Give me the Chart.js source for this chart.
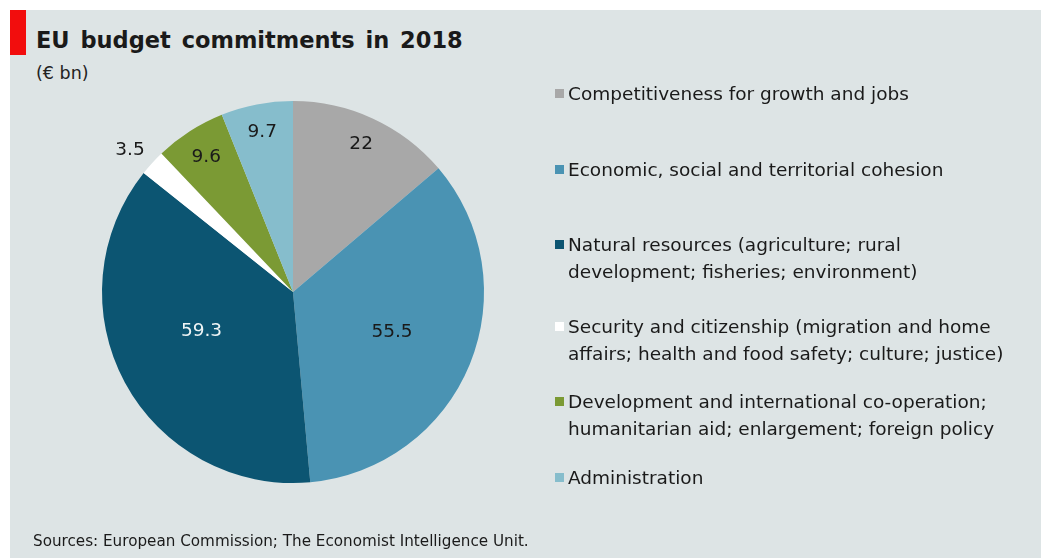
<!DOCTYPE html>
<html>
<head>
<meta charset="utf-8">
<script src="https://cdn.jsdelivr.net/npm/chart.js@4/dist/chart.umd.min.js"></script>
<style>
  html, body { margin: 0; padding: 0; background: #ffffff; }
  #wrap { position: relative; width: 1044px; height: 558px; overflow: hidden; background: #ffffff; }
  #panel { position: absolute; left: 10px; top: 10px; width: 1031px; height: 548px; background: #dde4e5; }
  #flag { position: absolute; left: 10px; top: 10px; width: 16px; height: 45px; background: #f20d0d; }
  #title { position: absolute; left: 36px; top: 27px; font-family: "DejaVu Sans", sans-serif; font-weight: bold;
           font-size: 22.5px; line-height: 26px; color: #1a1a1a; word-spacing: 3px; white-space: nowrap; }
  #subtitle { position: absolute; left: 36px; top: 62px; font-family: "DejaVu Sans", sans-serif;
              font-size: 17.5px; line-height: 22px; color: #222; white-space: nowrap; }
  #source { position: absolute; left: 33px; top: 530px; font-family: "DejaVu Sans", sans-serif;
            font-size: 15.2px; line-height: 22px; color: #1a1a1a; white-space: nowrap; }
  canvas#pie { position: absolute; left: 0; top: 0; }
  .item { position: absolute; left: 555px; font-family: "DejaVu Sans", sans-serif; font-size: 18.5px;
          line-height: 27px; color: #1a1a1a; white-space: nowrap; }
  .item .sw { position: absolute; left: 0; top: 9px; width: 9px; height: 9px; }
  .item .tx { margin-left: 13px; }
</style>
</head>
<body>
<div id="wrap">
  <div id="panel"></div>
  <div id="flag"></div>
  <div id="title">EU budget commitments in 2018</div>
  <div id="subtitle">(€ bn)</div>
  <canvas id="pie" width="1044" height="558"></canvas>
  <div id="legend"></div>
  <div id="source">Sources: European Commission; The Economist Intelligence Unit.</div>
</div>
<script>
// Budget headings (each entry is the list of lines shown in the key)
const categories = [
  ["Competitiveness for growth and jobs"],
  ["Economic, social and territorial cohesion"],
  ["Natural resources (agriculture; rural", "development; fisheries; environment)"],
  ["Security and citizenship (migration and home", "affairs; health and food safety; culture; justice)"],
  ["Development and international co-operation;", "humanitarian aid; enlargement; foreign policy"],
  ["Administration"]
];

// Commitments, € bn
const commitments = [22, 55.5, 59.3, 3.5, 9.6, 9.7];

// Slice fills
const sliceColors = ["#a8a8a8", "#4a93b3", "#0c5572", "#ffffff", "#7b9a34", "#86bdcc"];

// Value label placement inside each slice: share of the slice's sweep and of the radius
const labelSweep  = [0.5, 0.5, 0.54, 0.3, 0.5, 0.5];
const labelRadius = [0.85, 0.56, 0.52, 1.13, 0.84, 0.85];
const labelColors = ["#1a1a1a", "#1a1a1a", "#eef4f5", "#1a1a1a", "#1a1a1a", "#1a1a1a"];

// Vertical position of each key entry
const legendTops = [80, 156, 231, 313, 388, 464];

// Key
const legend = document.getElementById("legend");
categories.forEach((lines, i) => {
  const item = document.createElement("div");
  item.className = "item";
  item.style.top = legendTops[i] + "px";
  const sw = document.createElement("span");
  sw.className = "sw";
  sw.style.background = sliceColors[i];
  item.appendChild(sw);
  lines.forEach(line => {
    const d = document.createElement("div");
    d.className = "tx";
    d.textContent = line;
    item.appendChild(d);
  });
  legend.appendChild(item);
});

// Values written on the slices, positioned from each arc's own geometry
const sliceValues = {
  id: "sliceValues",
  afterDatasetsDraw(chart) {
    const ctx = chart.ctx;
    const meta = chart.getDatasetMeta(0);
    const data = chart.data.datasets[0].data;
    ctx.save();
    ctx.font = '18.5px "DejaVu Sans", sans-serif';
    ctx.textAlign = "center";
    ctx.textBaseline = "middle";
    meta.data.forEach((arc, i) => {
      const p = arc.getProps(["x", "y", "startAngle", "endAngle", "outerRadius"], true);
      const a = p.startAngle + (p.endAngle - p.startAngle) * labelSweep[i];
      const r = p.outerRadius * labelRadius[i];
      ctx.fillStyle = labelColors[i];
      ctx.fillText(String(data[i]), p.x + Math.cos(a) * r, p.y + Math.sin(a) * r);
    });
    ctx.restore();
  }
};

new Chart(document.getElementById("pie"), {
  type: "pie",
  data: {
    labels: categories.map(l => l.join(" ")),
    datasets: [{
      data: commitments,
      backgroundColor: sliceColors,
      borderWidth: 0,
      hoverOffset: 0
    }]
  },
  options: {
    responsive: false,
    animation: false,
    layout: { padding: { left: 102, right: 560, top: 101, bottom: 75 } },
    plugins: {
      legend: { display: false },
      tooltip: { enabled: false }
    }
  },
  plugins: [sliceValues]
});
</script>
</body>
</html>
